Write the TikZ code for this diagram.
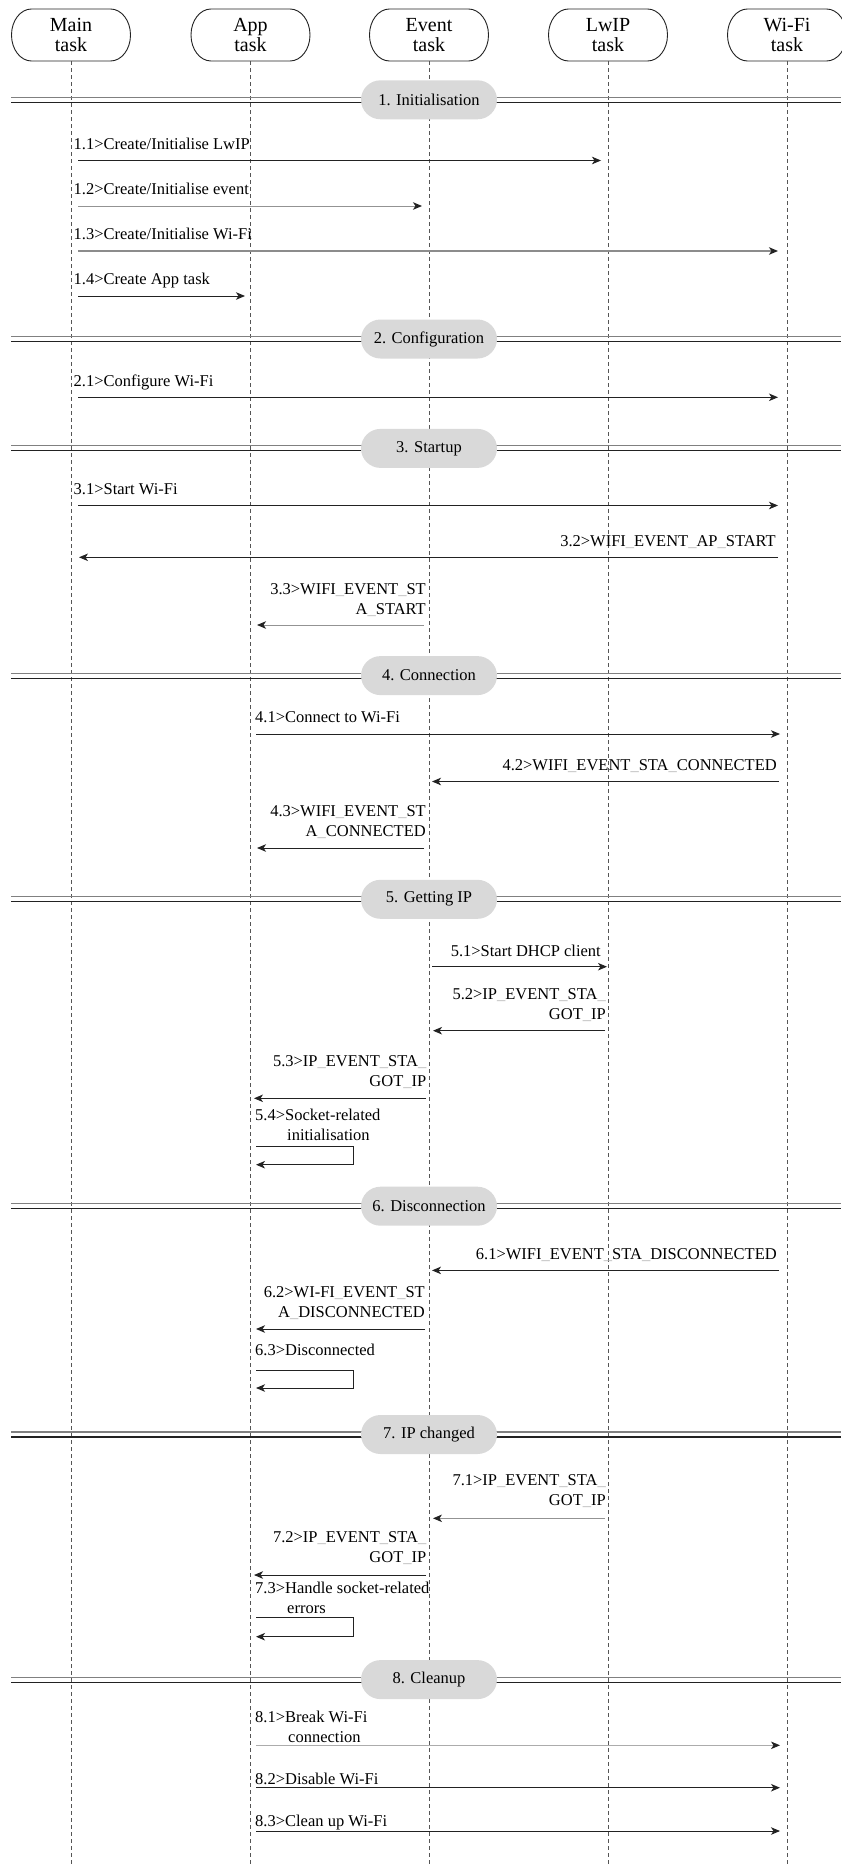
\documentclass[tikz,border=0pt]{standalone}
\usepackage{fontspec}
\setmainfont{Liberation Serif}
\usetikzlibrary{arrows.meta,shapes.misc}
\definecolor{pillfill}{HTML}{D9D9D9}
\definecolor{ink}{HTML}{222222}
\definecolor{lifegray}{HTML}{555555}
\newcommand{\us}{\textcolor{gray!55}{\_}}
\tikzset{
  hdrnode/.style={minimum width=119pt, minimum height=52pt, inner sep=0pt, align=center, font=\fontsize{20}{20}\selectfont},
  hdrline/.style={draw=ink, line width=0.9pt},
  lifeline/.style={draw=lifegray, line width=0.7pt, dash pattern=on 4pt off 3pt},
  sepline/.style={draw=ink, line width=1.1pt},
  pillnode/.style={rounded rectangle, fill=pillfill, minimum width=136pt, minimum height=39pt, inner sep=0pt, font=\fontsize{16.5}{20}\selectfont},
  msgarrow/.style={draw=ink, line width=0.9pt, -{Stealth[length=9pt,width=7.5pt,inset=2.5pt,color=ink]}},
  lbl/.style={inner sep=0pt, font=\fontsize{16.5}{20}\selectfont},
}
\newcommand{\hdr}[3]{%
  \node[hdrnode] (#1) at (#2,-35) {#3};
  \draw[hdrline] ({#2-39.5},-9) -- ({#2+39.5},-9) arc[start angle=90,end angle=-90,x radius=20,y radius=26] -- ({#2-39.5},-61) arc[start angle=270,end angle=90,x radius=20,y radius=26] -- cycle;
  \coordinate (#1end) at (#2,-1865);
  \draw[lifeline] (#1.south) -- (#1end);}
\newcommand{\sect}[3]{%
  \coordinate (#1L) at (11,{-#2}); \coordinate (#1R) at (841,{-#2});
  \draw[sepline, draw=gray] ([yshift=2.5pt]#1L) -- ([yshift=2.5pt]#1R);
  \draw[sepline] ([yshift=-2.5pt]#1L) -- ([yshift=-2.5pt]#1R);
  \node[pillnode] (#1) at (429,{-#2}) {#3};}
\newcommand{\msg}[5][]{%
  \coordinate (#2s) at (#4,{-#3}); \coordinate (#2e) at (#5,{-#3});
  \draw[msgarrow,#1] (#2s) -- (#2e);}
\newcommand{\selfmsg}[3]{%
  \coordinate (#1s) at (256,{-#2}); \coordinate (#1a) at (353,{-#2});
  \coordinate (#1b) at (353,{-#3}); \coordinate (#1e) at (256,{-#3});
  \draw[msgarrow] (#1s) -- (#1a) -- (#1b) -- (#1e);}
\newcommand{\lblL}[4]{\node[lbl, anchor=base west] (#1) at (#2,{-#3}) {\begin{tabular}[b]{@{}l@{}}#4\end{tabular}};}
\newcommand{\lblR}[4]{\node[lbl, anchor=base east] (#1) at (#2,{-#3}) {\begin{tabular}[b]{@{}r@{}}#4\end{tabular}};}
\begin{document}
\begin{tikzpicture}[x=1pt,y=1pt]
\useasboundingbox (0,0) rectangle (841,-1865);
\fill[white] (0,0) rectangle (841,-1865);
% headers and lifelines
\hdr{main}{71}{Main\\task}
\hdr{app}{250.5}{App\\task}
\hdr{event}{429}{Event\\task}
\hdr{lwip}{608}{LwIP\\task}
\hdr{wifi}{787}{Wi-Fi\\task}
% sections
\sect{s1}{99.8}{1. Initialisation}
\sect{s2}{339}{2. Configuration}
\sect{s3}{448.4}{3. Startup}
\sect{s4}{675.6}{4. Connection}
\sect{s5}{899.3}{5. Getting IP}
\sect{s6}{1206.2}{6. Disconnection}
\sect{s7}{1434.5}{7. IP changed}
\sect{s8}{1679.6}{8. Cleanup}
% 1
\msg{m11}{160.5}{78}{601}
\lblL{t11}{73.5}{149.3}{1.1>Create/Initialise LwIP}
\msg[draw=gray!85]{m12}{206}{78}{422}
\lblL{t12}{73.5}{194}{1.2>Create/Initialise event}
\msg[draw=gray!90,line width=1.2pt]{m13}{251}{78}{778}
\lblL{t13}{73.5}{239.3}{1.3>Create/Initialise Wi-Fi}
\msg{m14}{296}{78}{245}
\lblL{t14}{73.5}{284.7}{1.4>Create App task}
% 2
\msg{m21}{397.3}{78}{778}
\lblL{t21}{73.5}{386}{2.1>Configure Wi-Fi}
% 3
\msg{m31}{505.5}{78}{778}
\lblL{t31}{73.5}{494}{3.1>Start Wi-Fi}
\msg{m32}{557.3}{778}{79}
\lblR{t32}{776}{546.7}{3.2>WIFI\us EVENT\us AP\us START}
\msg[draw=gray!85]{m33}{625}{424}{257}
\lblR{t33}{426}{614.3}{3.3>WIFI\us EVENT\us ST\\A\us START}
% 4
\msg{m41}{734}{256}{780}
\lblL{t41}{255}{722.5}{4.1>Connect to Wi-Fi}
\msg{m42}{781.5}{779}{432}
\lblR{t42}{777}{770}{4.2>WIFI\us EVENT\us STA\us CONNECTED}
\msg{m43}{848}{424}{257}
\lblR{t43}{426}{836.5}{4.3>WIFI\us EVENT\us ST\\A\us CONNECTED}
% 5
\msg{m51}{966.7}{432}{607}
\lblR{t51}{601}{956}{5.1>Start DHCP client}
\msg{m52}{1030.7}{605}{433}
\lblR{t52}{606}{1019.3}{5.2>IP\us EVENT\us STA\us\\GOT\us IP}
\msg{m53}{1098.3}{426}{254}
\lblR{t53}{426.5}{1086.7}{5.3>IP\us EVENT\us STA\us\\GOT\us IP}
\selfmsg{m54}{1146.7}{1164.7}
\lblL{t54}{255}{1140}{5.4>Socket-related\\\hspace*{32pt}initialisation}
% 6
\msg{m61}{1270.4}{779}{432}
\lblR{t61}{777}{1259}{6.1>WIFI\us EVENT\us STA\us DISCONNECTED}
\msg{m62}{1329}{425}{256}
\lblR{t62}{425}{1317}{6.2>WI-FI\us EVENT\us ST\\A\us DISCONNECTED}
\selfmsg{m63}{1370}{1388}
\lblL{t63}{255}{1355}{6.3>Disconnected}
% 7
\msg[draw=gray!85]{m71}{1518.3}{605}{433}
\lblR{t71}{606}{1505.7}{7.1>IP\us EVENT\us STA\us\\GOT\us IP}
\msg{m72}{1575}{426}{254}
\lblR{t72}{426.5}{1562.7}{7.2>IP\us EVENT\us STA\us\\GOT\us IP}
\selfmsg{m73}{1617.7}{1636.7}
\lblL{t73}{255}{1613.3}{7.3>Handle socket-related\\\hspace*{32pt}errors}
% 8
\msg[draw=gray!65]{m81}{1745.3}{256}{780}
\lblL{t81}{255}{1742}{8.1>Break Wi-Fi\\\hspace*{33pt}connection}
\msg{m82}{1787.7}{256}{780}
\lblL{t82}{255}{1784}{8.2>Disable Wi-Fi}
\msg{m83}{1831}{256}{780}
\lblL{t83}{255}{1826.7}{8.3>Clean up Wi-Fi}
\end{tikzpicture}
\end{document}
